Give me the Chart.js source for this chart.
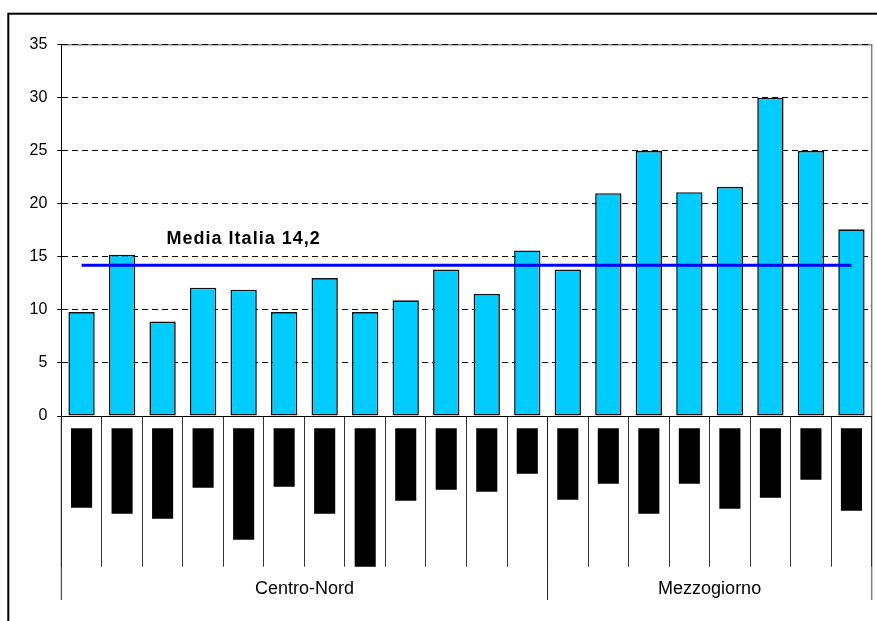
<!DOCTYPE html>
<html lang="it">
<head>
<meta charset="utf-8">
<title>Media Italia 14,2</title>
<script src="https://cdn.jsdelivr.net/npm/chart.js@4.4.1/dist/chart.umd.min.js"></script>
<style>
  html, body { margin: 0; padding: 0; background: #fff; }
  #wrap { width: 877px; height: 621px; }
</style>
</head>
<body>
<div id="wrap"><canvas id="chart" width="877" height="621"></canvas></div>
<script>
  // ── Data ───────────────────────────────────────────────────

  // 20 regions, Centro-Nord first (12) then Mezzogiorno (8)
  const categories = [
    'Piemonte', "Valle d'Aosta", 'Lombardia', 'Trentino-Alto Adige', 'Veneto',
    'Friuli-Venezia Giulia', 'Liguria', 'Emilia-Romagna', 'Toscana', 'Umbria',
    'Marche', 'Lazio', 'Abruzzo', 'Molise', 'Campania', 'Puglia',
    'Basilicata', 'Calabria', 'Sicilia', 'Sardegna'
  ];

  const values = [
    9.8, 15.2, 8.9, 12.1, 11.9, 9.8, 13.0, 9.8, 10.9, 13.8,
    11.5, 15.6, 13.8, 21.0, 25.0, 21.1, 21.6, 30.0, 25.0, 17.6
  ];

  const mediaItalia = [
    14.2, 14.2, 14.2, 14.2, 14.2, 14.2, 14.2, 14.2, 14.2, 14.2,
    14.2, 14.2, 14.2, 14.2, 14.2, 14.2, 14.2, 14.2, 14.2, 14.2
  ];
  const mediaLabel = 'Media Italia 14,2';

  // blacked-out category labels under the axis, as [top, bottom] in y units
  const labelBlocks = [
    [-1.16, -8.64], [-1.16, -9.21], [-1.16, -9.68], [-1.16, -6.76], [-1.16, -11.66],
    [-1.16, -6.66], [-1.16, -9.21], [-1.16, -14.2], [-1.16, -7.98], [-1.16, -6.95],
    [-1.16, -7.13], [-1.16, -5.44], [-1.16, -7.89], [-1.16, -6.38], [-1.16, -9.21],
    [-1.16, -6.38], [-1.16, -8.74], [-1.16, -7.70], [-1.16, -6.00], [-1.16, -8.93]
  ];

  const groupLabels = ['Centro-Nord', 'Mezzogiorno'];
  const groupSizes = [12, 8];

  const yTicks = [0, 5, 10, 15, 20, 25, 30, 35];

  // ── Plugins ────────────────────────────────────────────────

  var FONT = "'Liberation Sans', Arial, sans-serif";

  // outer frame + grey plot border, drawn under the grid
  var framePlugin = {
    id: 'frame',
    beforeDraw: function (chart) {
      var ctx = chart.ctx;
      var a = chart.chartArea;
      ctx.save();
      ctx.strokeStyle = '#000';
      ctx.lineWidth = 2;
      ctx.strokeRect(8.3, 13.7, 1000, 1000);

      ctx.strokeStyle = '#808080';
      ctx.lineWidth = 1.5;
      ctx.beginPath();
      ctx.moveTo(a.left, a.top);
      ctx.lineTo(a.right, a.top);
      ctx.lineTo(a.right, a.bottom + 184);
      ctx.stroke();
      ctx.restore();
    }
  };

  // group dividers and group names below the category labels
  var groupsPlugin = {
    id: 'groups',
    afterDraw: function (chart) {
      var ctx = chart.ctx;
      var xs = chart.scales.x;
      var bottom = chart.chartArea.bottom;
      var step = xs.getPixelForValue(1) - xs.getPixelForValue(0);
      var edge = function (i) { return xs.getPixelForValue(0) + (i - 0.5) * step; };

      ctx.save();
      ctx.strokeStyle = '#222';
      ctx.lineWidth = 1;
      ctx.font = '18px ' + FONT;
      ctx.fillStyle = '#000';
      ctx.textAlign = 'center';
      ctx.textBaseline = 'middle';

      var start = 0;
      for (var g = 0; g < groupSizes.length; g++) {
        var end = start + groupSizes[g];
        var x0 = edge(start), x1 = edge(end);
        ctx.beginPath();
        ctx.moveTo(x0, bottom);
        ctx.lineTo(x0, bottom + 184);
        ctx.stroke();
        ctx.fillText(groupLabels[g], (x0 + x1) / 2, bottom + 173);
        start = end;
      }
      ctx.restore();
    }
  };

  // "Media Italia" caption above the average line
  var mediaPlugin = {
    id: 'mediaLabel',
    afterDatasetsDraw: function (chart) {
      var ctx = chart.ctx;
      var x = chart.scales.x.getPixelForValue(4);
      var y = chart.scales.y.getPixelForValue(mediaItalia[4]) - 21;
      ctx.save();
      ctx.font = 'bold 18px ' + FONT;
      ctx.letterSpacing = '1px';
      ctx.fillStyle = '#000';
      ctx.textAlign = 'center';
      ctx.textBaseline = 'alphabetic';
      ctx.fillText(mediaLabel, x, y);
      ctx.restore();
    }
  };

  // ── Chart ──────────────────────────────────────────────────

  Chart.defaults.font.family = FONT;

  new Chart(document.getElementById('chart').getContext('2d'), {
    data: {
      labels: categories,
      datasets: [
        {
          type: 'line',
          data: mediaItalia,
          borderColor: '#0000FF',
          borderWidth: 3,
          pointRadius: 0,
          fill: false,
          tension: 0,
          order: 0
        },
        {
          type: 'bar',
          data: values,
          backgroundColor: '#00CCFF',
          borderColor: '#111',
          borderWidth: 1.6,
          borderSkipped: false,
          barPercentage: 0.65,
          categoryPercentage: 1,
          grouped: false,
          order: 1
        },
        {
          type: 'bar',
          data: labelBlocks,
          backgroundColor: '#000',
          borderWidth: 0,
          barPercentage: 0.52,
          categoryPercentage: 1,
          grouped: false,
          clip: false,
          order: 2
        }
      ]
    },
    options: {
      responsive: false,
      animation: false,
      events: [],
      layout: { padding: { top: 44.7, right: 5.3, left: 0, bottom: 0 } },
      plugins: {
        legend: { display: false },
        tooltip: { enabled: false }
      },
      scales: {
        x: {
          type: 'category',
          offset: true,
          afterFit: function (s) { s.height = 205; },
          grid: {
            offset: true,
            drawOnChartArea: false,
            drawTicks: true,
            tickLength: 150.7,
            color: '#333',
            lineWidth: 1
          },
          border: { display: true, color: '#000', width: 1 },
          ticks: { display: false }
        },
        y: {
          min: 0,
          max: 35,
          afterFit: function (s) { s.width = 61.3; },
          afterBuildTicks: function (s) {
            s.ticks = yTicks.map(function (v) { return { value: v }; });
          },
          grid: {
            color: '#000',
            lineWidth: 1,
            drawTicks: true,
            tickLength: 4,
            tickColor: '#000'
          },
          border: { display: true, color: '#000', width: 1, dash: [6, 4] },
          ticks: {
            color: '#000',
            padding: 10,
            font: { size: 16 }
          }
        }
      }
    },
    plugins: [framePlugin, groupsPlugin, mediaPlugin]
  });
</script>
</body>
</html>
